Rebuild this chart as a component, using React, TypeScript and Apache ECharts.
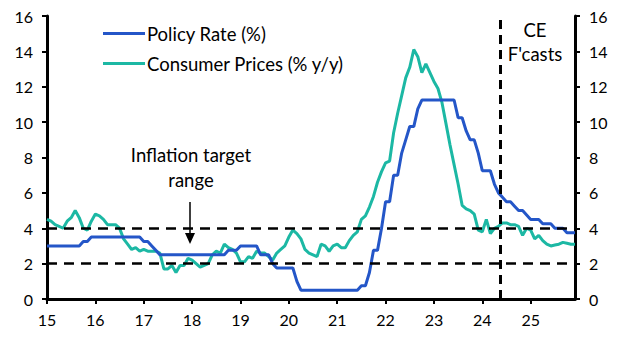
import React, { useEffect, useRef } from "react";
import * as echarts from "echarts";

// Monthly data, Jan 2015 (index 0) to Dec 2025 (index 131)
const policyRate: number[] = [
  // 2015
  3.0, 3.0, 3.0, 3.0, 3.0, 3.0, 3.0, 3.0, 3.0, 3.25, 3.25, 3.5,
  // 2016
  3.5, 3.5, 3.5, 3.5, 3.5, 3.5, 3.5, 3.5, 3.5, 3.5, 3.5, 3.5,
  // 2017
  3.25, 3.25, 3.0, 2.75, 2.5, 2.5, 2.5, 2.5, 2.5, 2.5, 2.5, 2.5,
  // 2018
  2.5, 2.5, 2.5, 2.5, 2.5, 2.5, 2.5, 2.5, 2.5, 2.75, 2.75, 2.75,
  // 2019
  3.0, 3.0, 3.0, 3.0, 3.0, 2.5, 2.5, 2.5, 2.0, 1.75, 1.75, 1.75,
  // 2020
  1.75, 1.75, 1.0, 0.5, 0.5, 0.5, 0.5, 0.5, 0.5, 0.5, 0.5, 0.5,
  // 2021
  0.5, 0.5, 0.5, 0.5, 0.5, 0.5, 0.75, 0.75, 1.5, 2.75, 2.75, 4.0,
  // 2022
  5.5, 5.5, 7.0, 7.0, 8.25, 9.0, 9.75, 9.75, 10.75, 11.25, 11.25, 11.25,
  // 2023
  11.25, 11.25, 11.25, 11.25, 11.25, 11.25, 10.25, 10.25, 9.5, 9.0, 9.0, 8.25,
  // 2024
  7.25, 7.25, 7.25, 6.5, 6.0, 5.75, 5.5, 5.5, 5.25, 5.0, 5.0, 4.75,
  // 2025
  4.5, 4.5, 4.5, 4.25, 4.25, 4.25, 4.0, 4.0, 4.0, 3.75, 3.75, 3.75,
];

const consumerPrices: number[] = [
  // 2015
  4.5, 4.4, 4.2, 4.1, 4.0, 4.4, 4.6, 5.0, 4.6, 4.0, 3.9, 4.4,
  // 2016
  4.8, 4.7, 4.5, 4.2, 4.2, 4.2, 4.0, 3.4, 3.1, 2.8, 2.9, 2.7,
  // 2017
  2.8, 2.7, 2.7, 2.7, 2.6, 1.7, 1.7, 1.9, 1.5, 1.9, 1.9, 2.3,
  // 2018
  2.2, 2.0, 1.8, 1.9, 2.0, 2.5, 2.7, 2.6, 3.1, 2.9, 2.8, 2.6,
  // 2019
  2.1, 2.1, 2.4, 2.3, 2.7, 2.6, 2.6, 2.4, 2.2, 2.6, 2.8, 3.0,
  // 2020
  3.5, 3.9, 3.7, 3.4, 2.8, 2.6, 2.5, 2.4, 3.1, 3.0, 2.7, 3.0,
  // 2021
  3.1, 2.9, 2.9, 3.3, 3.6, 3.8, 4.5, 4.7, 5.2, 5.8, 6.6, 7.2,
  // 2022
  7.7, 7.8, 9.4, 10.5, 11.5, 12.5, 13.1, 14.1, 13.7, 12.8, 13.3, 12.8,
  // 2023
  12.3, 11.9, 11.1, 9.9, 8.7, 7.6, 6.5, 5.3, 5.1, 5.0, 4.8, 3.9,
  // 2024
  3.8, 4.5, 3.7, 4.0, 4.1, 4.3, 4.3, 4.2, 4.2, 4.1, 3.6, 4.0,
  // 2025
  3.9, 3.4, 3.6, 3.3, 3.1, 3.0, 3.05, 3.1, 3.2, 3.15, 3.1, 3.1,
];

const yearLabels: string[] = ["15", "16", "17", "18", "19", "20", "21", "22", "23", "24", "25"];
const targetBand: number[] = [2, 4];
const forecastStart = 112.4; // months after Jan 2015 (about mid-May 2024)

const FONT = "Lato, 'Liberation Sans', sans-serif";
const TEXT_SIZE = 18.5;

export default function App() {
  const ref = useRef<HTMLDivElement>(null);

  useEffect(() => {
    if (!ref.current) return;
    const chart = echarts.init(ref.current, undefined, { renderer: "svg" });
    const yearTicks = yearLabels.map((_, i) => i * 12);
    const axisLine = { lineStyle: { color: "#000", width: 3 } };
    const yAxisCommon = {
      type: "value" as const,
      min: 0,
      max: 16,
      interval: 2,
      axisLine: { show: true, ...axisLine },
      axisTick: { show: true, length: 5, lineStyle: { color: "#000", width: 2 } },
      axisLabel: { color: "#000", fontSize: 16, fontFamily: FONT, margin: 14 },
      splitLine: { show: false },
    };
    const textStyle = (text: string, x: number, y: number) => ({
      type: "text",
      x,
      y,
      style: {
        text,
        fill: "#000",
        font: `${TEXT_SIZE}px ${FONT}`,
        textAlign: "center",
        textVerticalAlign: "middle",
      },
    });
    chart.setOption({
      animation: false,
      grid: { left: 47, right: 51, top: 16, bottom: 38 },
      legend: {
        orient: "vertical",
        left: 98,
        top: 19,
        icon: "rect",
        itemWidth: 42,
        itemHeight: 3,
        itemGap: 11,
        textStyle: { color: "#000", fontSize: TEXT_SIZE, fontFamily: FONT, padding: [0, 0, 0, -3] },
        data: ["Policy Rate (%)", "Consumer Prices (% y/y)"],
      },
      xAxis: {
        type: "value",
        min: 0,
        max: 131,
        axisLine: { show: true, onZero: false, ...axisLine },
        axisTick: {
          show: true,
          length: 5,
          customValues: yearTicks,
          lineStyle: { color: "#000", width: 2 },
        },
        axisLabel: {
          color: "#000",
          fontSize: 16,
          fontFamily: FONT,
          margin: 12,
          customValues: yearTicks,
          formatter: (v: number) => yearLabels[Math.round(v / 12)] ?? "",
        },
        splitLine: { show: false },
      },
      yAxis: [
        { ...yAxisCommon, position: "left" },
        { ...yAxisCommon, position: "right" },
      ],
      series: [
        {
          name: "Policy Rate (%)",
          type: "line",
          symbol: "none",
          data: policyRate.map((v, i) => [i, v]),
          lineStyle: { color: "#2456c8", width: 3 },
          itemStyle: { color: "#2456c8" },
          z: 3,
          markLine: {
            silent: true,
            symbol: "none",
            label: { show: false },
            lineStyle: { color: "#000", width: 2.5, type: [10, 7] },
            data: [
              ...targetBand.map((y) => ({ yAxis: y })),
              { xAxis: forecastStart, lineStyle: { color: "#000", width: 3, type: [9, 6] } },
            ],
          },
        },
        {
          name: "Consumer Prices (% y/y)",
          type: "line",
          symbol: "none",
          data: consumerPrices.map((v, i) => [i, v]),
          lineStyle: { color: "#1cb8a4", width: 3 },
          itemStyle: { color: "#1cb8a4" },
          z: 2,
        },
      ],
      graphic: [
        textStyle("Inflation target", 191, 155),
        textStyle("range", 191, 180),
        {
          type: "line",
          shape: { x1: 190, y1: 202, x2: 190, y2: 234 },
          style: { stroke: "#000", lineWidth: 1.5 },
        },
        {
          type: "polygon",
          shape: { points: [[185, 233], [195, 233], [190, 244]] },
          style: { fill: "#000" },
        },
        textStyle("CE", 535, 30),
        textStyle("F'casts", 535, 54),
      ],
    });
    return () => chart.dispose();
  }, []);

  return <div ref={ref} style={{ width: 626, height: 337, margin: -8 }} />;
}
